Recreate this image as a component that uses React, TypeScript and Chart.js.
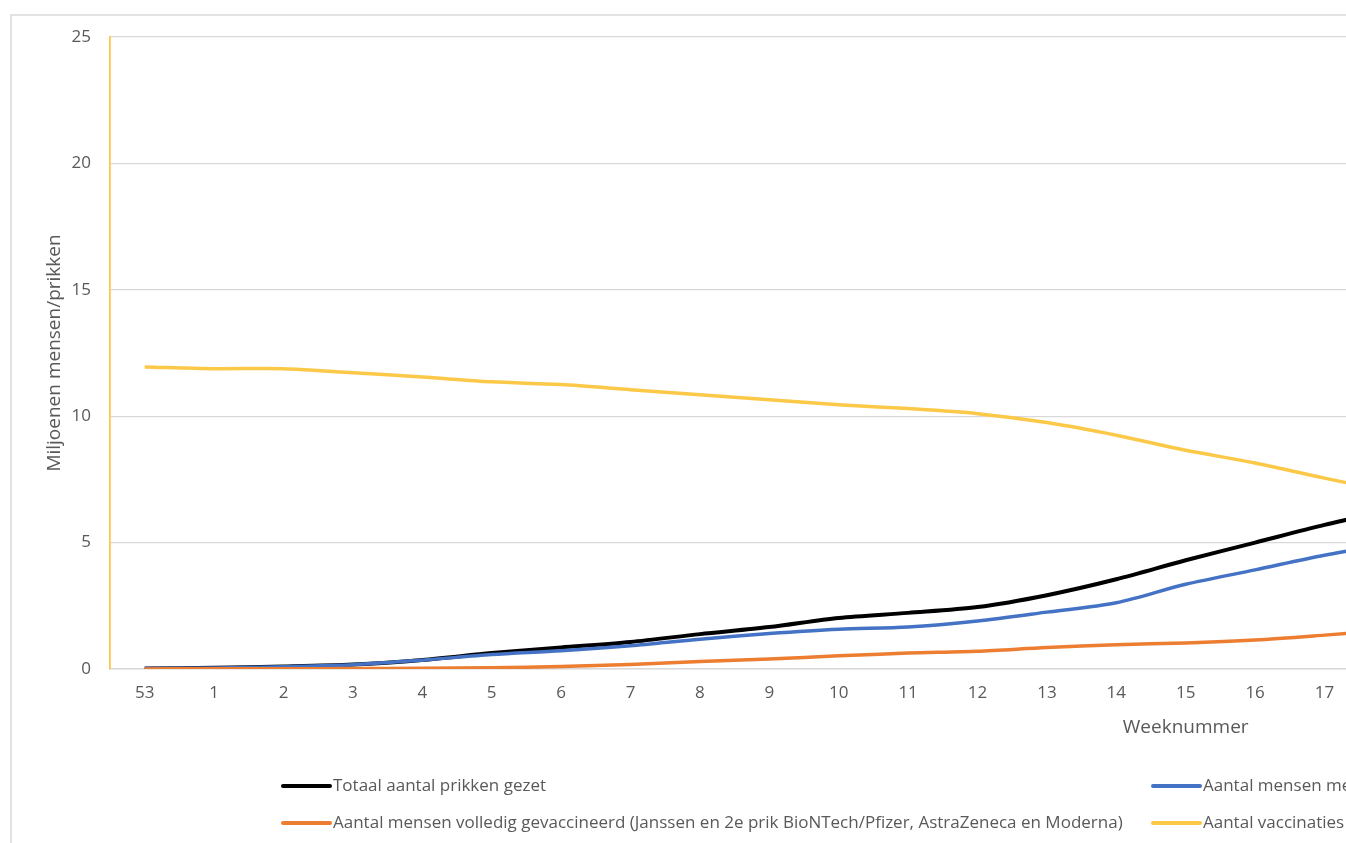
import React, { useEffect, useRef } from 'react';
import { Chart, registerables } from 'chart.js';

Chart.register(...registerables);

// Week numbers on the category axis (the reference is cropped after week 17)
const weeks = ['53', '1', '2', '3', '4', '5', '6', '7', '8', '9', '10', '11', '12', '13', '14', '15', '16', '17', '18', '19', '20', '21', '22', '23', '24', '25', '26', '27', '28', '29', '30'];

// Series values in millions (weeks 53 .. 18)
const totaalPrikken = [0.02, 0.05, 0.1, 0.18, 0.36, 0.63, 0.85, 1.07, 1.38, 1.66, 2.02, 2.22, 2.45, 2.92, 3.55, 4.3, 5.0, 5.7, 6.33];
const minimaalEenPrik = [0.02, 0.04, 0.09, 0.17, 0.35, 0.57, 0.72, 0.92, 1.18, 1.4, 1.57, 1.66, 1.9, 2.25, 2.62, 3.35, 3.92, 4.5, 4.95];
const volledigGevaccineerd = [0.0, 0.01, 0.01, 0.02, 0.03, 0.05, 0.1, 0.18, 0.3, 0.4, 0.52, 0.63, 0.7, 0.85, 0.96, 1.03, 1.15, 1.34, 1.55];
const vaccinatiesNogTeZetten = [11.95, 11.88, 11.88, 11.72, 11.55, 11.36, 11.25, 11.05, 10.85, 10.65, 10.45, 10.3, 10.1, 9.75, 9.25, 8.65, 8.15, 7.55, 6.98];

const seriesLabels = [
  'Totaal aantal prikken gezet',
  'Aantal mensen met minimaal 1 prik',
  'Aantal mensen volledig gevaccineerd (Janssen en 2e prik BioNTech/Pfizer, AstraZeneca en Moderna)',
  'Aantal vaccinaties nog te zetten',
];
const seriesColors = ['#000000', '#4472C4', '#ED7D31', '#FBC947'];

const yMin = 0;
const yMax = 25;
const yStep = 5;

const yTitle = 'Miljoenen mensen/prikken';
const xTitle = 'Weeknummer';

const CW = 2300;
const CH = 843;
const FONT = "'Open Sans', 'DejaVu Sans', sans-serif";
const TEXT = '#595959';

export default function App() {
  const ref = useRef<HTMLCanvasElement | null>(null);

  useEffect(() => {
    const canvas = ref.current;
    if (!canvas) return;

    const decor = {
      id: 'decor',
      beforeDraw(chart: any) {
        const ctx = chart.ctx;
        ctx.save();
        ctx.fillStyle = '#ffffff';
        ctx.fillRect(0, 0, chart.width, chart.height);
        ctx.strokeStyle = '#d9d9d9';
        ctx.lineWidth = 1.5;
        ctx.strokeRect(11, 15, CW - 22, CH + 50);
        ctx.restore();
      },
      afterDraw(chart: any) {
        const ctx = chart.ctx;
        const area = chart.chartArea;
        ctx.save();
        ctx.fillStyle = TEXT;
        // y-axis title
        ctx.font = `19px ${FONT}`;
        ctx.textAlign = 'center';
        ctx.textBaseline = 'middle';
        ctx.save();
        ctx.translate(55, (area.top + area.bottom) / 2);
        ctx.rotate(-Math.PI / 2);
        ctx.fillText(yTitle, 0, 0);
        ctx.restore();
        // x-axis title
        ctx.fillText(xTitle, (area.left + area.right) / 2, 728);
        // legend (two columns, two rows)
        const cols = [283, 1153];
        const rows = [786, 823];
        ctx.font = `17px ${FONT}`;
        ctx.textAlign = 'left';
        chart.data.datasets.forEach((ds: any, i: number) => {
          const x = cols[i % 2];
          const y = rows[Math.floor(i / 2)];
          ctx.strokeStyle = ds.borderColor;
          ctx.lineWidth = 4;
          ctx.lineCap = 'round';
          ctx.beginPath();
          ctx.moveTo(x, y);
          ctx.lineTo(x + 47, y);
          ctx.stroke();
          ctx.fillStyle = TEXT;
          ctx.fillText(ds.label, x + 50, y);
        });
        ctx.restore();
      },
    };

    const mk = (i: number, data: number[], order: number) => ({
      label: seriesLabels[i],
      data,
      borderColor: seriesColors[i],
      backgroundColor: seriesColors[i],
      borderWidth: i === 0 ? 4 : 3.5,
      pointRadius: 0,
      tension: 0.3,
      fill: false,
      order,
    });

    const chart = new Chart(canvas, {
      type: 'line',
      data: {
        labels: weeks,
        datasets: [
          mk(0, totaalPrikken, 4),
          mk(1, minimaalEenPrik, 3),
          mk(2, volledigGevaccineerd, 2),
          mk(3, vaccinatiesNogTeZetten, 1),
        ],
      },
      options: {
        responsive: false,
        animation: false,
        devicePixelRatio: 1,
        layout: { padding: { left: 0, top: 37, right: 38.6, bottom: 0 } },
        plugins: {
          legend: { display: false },
          tooltip: { enabled: false },
          title: { display: false },
        },
        scales: {
          x: {
            offset: true,
            grid: { display: false, drawTicks: false },
            border: { display: true, color: '#d9d9d9', width: 1.5 },
            ticks: {
              color: TEXT,
              font: { family: FONT, size: 17 },
              padding: 14,
              maxRotation: 0,
              autoSkip: false,
            },
            afterFit(scale: any) {
              scale.height = CH - 669;
            },
          },
          y: {
            min: yMin,
            max: yMax,
            grid: { color: '#d9d9d9', lineWidth: 1.2, drawTicks: false },
            border: { display: true, color: '#FBC947', width: 1.8 },
            ticks: {
              stepSize: yStep,
              color: TEXT,
              font: { family: FONT, size: 17 },
              padding: 19,
            },
            afterFit(scale: any) {
              scale.width = 110;
            },
          },
        },
      },
      plugins: [decor],
    } as any);

    return () => chart.destroy();
  }, []);

  return (
    <div
      style={{
        position: 'fixed',
        left: 0,
        top: 0,
        width: 1346,
        height: 843,
        overflow: 'hidden',
        background: '#ffffff',
      }}
    >
      <canvas ref={ref} width={CW} height={CH} style={{ display: 'block', width: CW, height: CH }} />
    </div>
  );
}
